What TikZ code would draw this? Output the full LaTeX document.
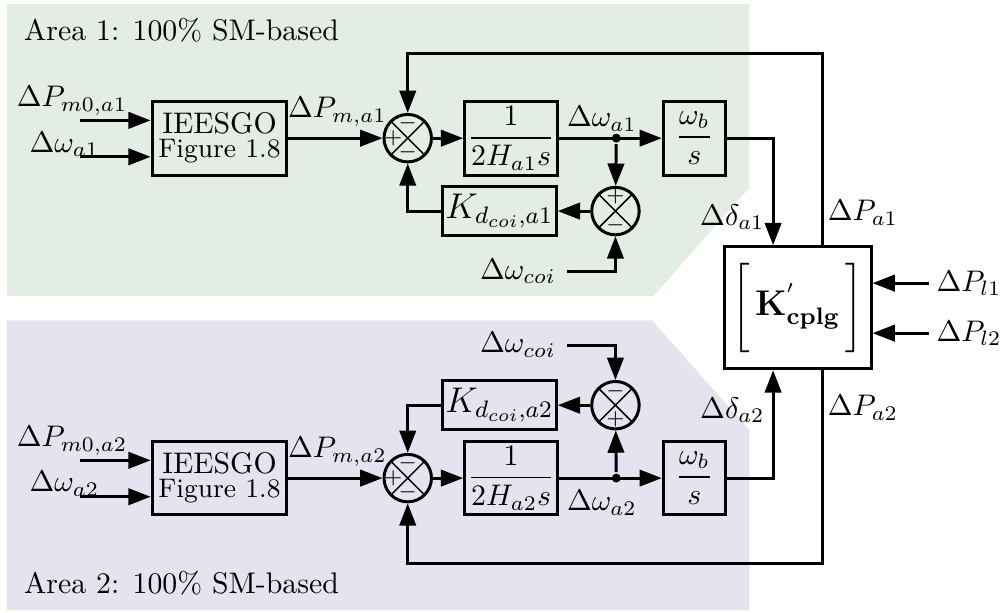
\documentclass[tikz,border=0pt]{standalone}
\usepackage{amsmath, amssymb}
\usetikzlibrary{positioning,arrows.meta}
\definecolor{areaone}{RGB}{227,237,228}
\definecolor{areatwo}{RGB}{228,228,240}

\begin{document}
\begin{tikzpicture}[>={Triangle[length=7.5pt,width=5.5pt]}, line width=1pt,
  blk/.style={draw, minimum height=0.87cm, align=center, inner sep=1pt},
  sumnode/.style={draw, circle, minimum size=0.56cm, inner sep=0pt,
    path picture={\draw[line width=0.5pt] (path picture bounding box.north west) -- (path picture bounding box.south east)
      (path picture bounding box.south west) -- (path picture bounding box.north east);}},
  sgn/.style={font=\scriptsize, inner sep=0pt},
  jdot/.style={circle, fill, inner sep=0pt, minimum size=3pt}]
  \useasboundingbox (0,0) rectangle (11.82,-7.22);
  \fill[areaone] (0.08,-0.05) -- (8.84,-0.05) -- (8.84,-2.21) -- (7.71,-3.49) -- (0.08,-3.49) -- cycle;
  \fill[areatwo] (0.08,-3.78) -- (7.69,-3.78) -- (8.84,-5.07) -- (8.84,-7.20) -- (0.08,-7.20) -- cycle;
  \node[anchor=west] (area1) at (0.15,-0.35) {Area 1: 100\% SM-based};
  \node[anchor=west] (area2) at (0.15,-6.88) {Area 2: 100\% SM-based};

  \node[blk, minimum width=1.59cm] (gov1) at (2.59,-1.63) {IEESGO\\[-4pt]\small Figure 1.8};
  \node[sumnode] (sum1) at (4.81,-1.63) {};
  \node[blk, minimum width=1.03cm] (int1) at (6.03,-1.63) {$\dfrac{1}{2H_{a1}s}$};
  \node[jdot] (dot1) at (7.27,-1.63) {};
  \node[blk, minimum width=0.73cm] (ang1) at (8.19,-1.63) {$\dfrac{\omega_b}{s}$};
  \node[sumnode] (sum2) at (7.26,-2.49) {};
  \node[blk, minimum width=1.30cm, minimum height=0.58cm, font=\large] (kd1) at (5.89,-2.49) {$K_{d_{coi},a1}$};
  \node[anchor=east] (wc1) at (6.69,-3.20) {$\Delta\omega_{coi}$};

  \node[blk, minimum width=1.59cm] (gov2) at (2.59,-5.64) {IEESGO\\[-4pt]\small Figure 1.8};
  \node[sumnode] (sum3) at (4.81,-5.64) {};
  \node[blk, minimum width=1.03cm] (int2) at (6.03,-5.64) {$\dfrac{1}{2H_{a2}s}$};
  \node[jdot] (dot2) at (7.27,-5.64) {};
  \node[blk, minimum width=0.73cm] (ang2) at (8.19,-5.64) {$\dfrac{\omega_b}{s}$};
  \node[sumnode] (sum4) at (7.26,-4.78) {};
  \node[blk, minimum width=1.30cm, minimum height=0.58cm, font=\large] (kd2) at (5.89,-4.78) {$K_{d_{coi},a2}$};
  \node[anchor=east] (wc2) at (6.69,-4.07) {$\Delta\omega_{coi}$};

  \node[draw, minimum width=1.73cm, minimum height=1.44cm, inner sep=1pt] (cplg) at (9.41,-3.63)
    {$\left[\vcenter{\hbox{\rule{0pt}{30pt}}}\,\text{\large$\mathbf{K}^{'}_{\mathbf{cplg}}$}\,\right]$};
  \node[anchor=west, inner sep=2pt] (pl1) at (10.96,-3.34) {$\Delta P_{l1}$};
  \node[anchor=west, inner sep=2pt] (pl2) at (10.96,-3.93) {$\Delta P_{l2}$};

  \node[sgn] (s1t) at ([yshift=0.17cm]sum1.center) {$-$};
  \node[sgn] (s1l) at ([xshift=-0.17cm]sum1.center) {$+$};
  \node[sgn] (s1b) at ([yshift=-0.17cm]sum1.center) {$-$};
  \node[sgn] (s2t) at ([yshift=0.17cm]sum2.center) {$+$};
  \node[sgn] (s2b) at ([yshift=-0.17cm]sum2.center) {$-$};
  \node[sgn] (s3t) at ([yshift=0.17cm]sum3.center) {$-$};
  \node[sgn] (s3l) at ([xshift=-0.17cm]sum3.center) {$+$};
  \node[sgn] (s3b) at ([yshift=-0.17cm]sum3.center) {$-$};
  \node[sgn] (s4t) at ([yshift=0.17cm]sum4.center) {$-$};
  \node[sgn] (s4b) at ([yshift=-0.17cm]sum4.center) {$+$};

  \node (l1a) at (0.85,-1.19) {$\Delta P_{m0,a1}$};
  \node (l1b) at (0.76,-1.70) {$\Delta\omega_{a1}$};
  \node (pm1) at (3.98,-1.32) {$\Delta P_{m,a1}$};
  \node (w1) at (7.10,-1.40) {$\Delta\omega_{a1}$};
  \node (dd1) at (8.64,-2.56) {$\Delta\delta_{a1}$};
  \node (pa1) at (10.18,-2.51) {$\Delta P_{a1}$};
  \node (l2a) at (0.85,-5.20) {$\Delta P_{m0,a2}$};
  \node (l2b) at (0.76,-5.71) {$\Delta\omega_{a2}$};
  \node (pm2) at (3.98,-5.33) {$\Delta P_{m,a2}$};
  \node (w2) at (7.10,-5.93) {$\Delta\omega_{a2}$};
  \node (dd2) at (8.64,-4.84) {$\Delta\delta_{a2}$};
  \node (pa2) at (10.18,-4.81) {$\Delta P_{a2}$};

  \coordinate (u1a) at (0.94,-1.42);
  \coordinate (u1b) at (0.94,-1.85);
  \coordinate (u2a) at (0.94,-5.43);
  \coordinate (u2b) at (0.94,-5.86);
  \coordinate (fb1) at (9.70,-0.63);
  \coordinate (fb2) at (9.70,-6.65);

  \draw[->] (u1a) -- (u1a -| gov1.west);
  \draw[->] (u1b) -- (u1b -| gov1.west);
  \draw[->] (gov1) -- (sum1);
  \draw[->] (sum1) -- (int1);
  \draw[->] (int1) -- (ang1);
  \draw[->] (dot1) -- (sum2);
  \draw[->] (sum2) -- (kd1);
  \draw[->] (kd1) -| (sum1);
  \draw[->] (wc1) -| (sum2);
  \draw[->] (ang1) -| ([xshift=-0.29cm]cplg.north);
  \draw[->] ([xshift=0.29cm]cplg.north) -- (fb1) -| (sum1);

  \draw[->] (u2a) -- (u2a -| gov2.west);
  \draw[->] (u2b) -- (u2b -| gov2.west);
  \draw[->] (gov2) -- (sum3);
  \draw[->] (sum3) -- (int2);
  \draw[->] (int2) -- (ang2);
  \draw[->] (dot2) -- (sum4);
  \draw[->] (sum4) -- (kd2);
  \draw[->] (kd2) -| (sum3);
  \draw[->] (wc2) -| (sum4);
  \draw[->] (ang2) -| ([xshift=-0.29cm]cplg.south);
  \draw[->] ([xshift=0.29cm]cplg.south) -- (fb2) -| (sum3);

  \draw[->] (pl1.west) -- (pl1.west -| cplg.east);
  \draw[->] (pl2.west) -- (pl2.west -| cplg.east);
\end{tikzpicture}
\end{document}
